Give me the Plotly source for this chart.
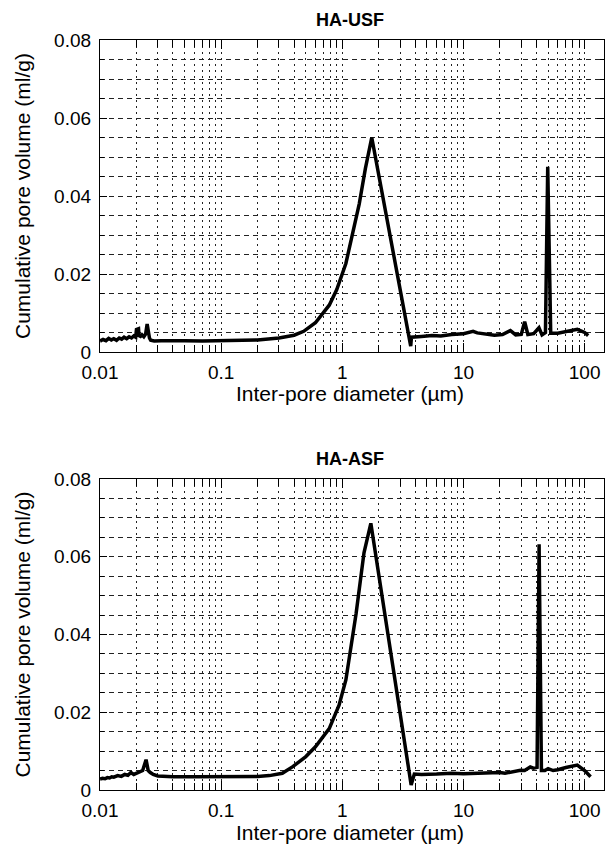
import plotly.graph_objects as go

# ---------------- data ----------------
usf_diam = [0.0100, 0.0106, 0.0112, 0.0118, 0.0124, 0.0130, 0.0137, 0.0144, 0.0151, 0.0158,
            0.0166, 0.0174, 0.0182, 0.0190, 0.0197, 0.0200, 0.0208, 0.0210, 0.0216, 0.0222,
            0.0230, 0.0238, 0.0245, 0.0250, 0.0256, 0.0262, 0.0280, 0.032, 0.040, 0.050,
            0.070, 0.100, 0.150, 0.200, 0.300, 0.400, 0.480, 0.600, 0.780, 0.900,
            1.07, 1.20, 1.38, 1.55, 1.75, 3.67, 3.72, 4.5, 5.5, 6.5,
            8.0, 10.0, 11.0, 12.0, 13.0, 15.0, 18.0, 21.0, 24.4, 27.0,
            30.0, 32.0, 34.0, 38.0, 42.0, 44.5, 47.5, 49.6, 52.5, 60.0,
            70.0, 87.0, 100.0, 107.0]
usf_vol = [0.0028, 0.0032, 0.0029, 0.0035, 0.0031, 0.0034, 0.0030, 0.0036, 0.0033, 0.0038,
           0.0034, 0.0039, 0.0036, 0.0041, 0.0038, 0.0058, 0.0060, 0.0042, 0.0040, 0.0044,
           0.0039, 0.0046, 0.0072, 0.0047, 0.0036, 0.0030, 0.0028, 0.0029, 0.0028, 0.0029,
           0.0028, 0.0029, 0.0029, 0.0031, 0.0036, 0.0043, 0.0053, 0.0075, 0.0120, 0.0160,
           0.0227, 0.0300, 0.0380, 0.0470, 0.0550, 0.0015, 0.0038, 0.0040, 0.0042, 0.0041,
           0.0045, 0.0047, 0.0050, 0.0053, 0.0049, 0.0046, 0.0043, 0.0045, 0.0055, 0.0044,
           0.0045, 0.0078, 0.0045, 0.0047, 0.0062, 0.0044, 0.0050, 0.0475, 0.0048, 0.0048,
           0.0052, 0.0058, 0.0050, 0.0042]

asf_diam = [0.0100, 0.0105, 0.0110, 0.0115, 0.0120, 0.0125, 0.0130, 0.0140, 0.0150, 0.0160,
            0.0170, 0.0180, 0.0190, 0.0200, 0.0210, 0.0225, 0.0240, 0.0250, 0.0260, 0.0275,
            0.030, 0.040, 0.060, 0.100, 0.150, 0.200, 0.250, 0.320, 0.390, 0.500,
            0.600, 0.780, 0.940, 1.07, 1.30, 1.51, 1.72, 3.70, 3.93, 4.5,
            6.0, 8.0, 10.0, 12.0, 15.0, 20.0, 22.0, 26.0, 29.5, 32.0,
            35.6, 37.8, 40.5, 42.1, 44.0, 47.0, 50.0, 55.0, 60.0, 70.0,
            87.0, 100.0, 112.0]
asf_vol = [0.0028, 0.0030, 0.0029, 0.0032, 0.0031, 0.0034, 0.0033, 0.0037, 0.0035, 0.0040,
           0.0038, 0.0045, 0.0040, 0.0043, 0.0044, 0.0050, 0.0078, 0.0050, 0.0045, 0.0040,
           0.0036, 0.0034, 0.0034, 0.0034, 0.0034, 0.0035, 0.0037, 0.0043, 0.0060, 0.0086,
           0.0111, 0.0158, 0.0218, 0.0283, 0.0454, 0.0610, 0.0686, 0.0013, 0.0041, 0.0040,
           0.0041, 0.0043, 0.0042, 0.0043, 0.0043, 0.0045, 0.0043, 0.0047, 0.0051, 0.0050,
           0.0059, 0.0056, 0.0058, 0.0632, 0.0050, 0.0050, 0.0055, 0.0050, 0.0052, 0.0058,
           0.0064, 0.0050, 0.0034]

x_ticks = [0.01, 0.1, 1, 10, 100]
x_tick_labels = ["0.01", "0.1", "1", "10", "100"]
y_ticks = [0, 0.02, 0.04, 0.06, 0.08]
y_tick_labels = ["0", "0.02", "0.04", "0.06", "0.08"]
panel_titles = ["HA-USF", "HA-ASF"]
x_title = "Inter-pore diameter (µm)"
y_title = "Cumulative pore volume (ml/g)"

# ---------------- figure ----------------
W, H = 606, 848
FONT = "Liberation Sans, Arial, Helvetica, sans-serif"

minor_x = [m * d for d in (0.01, 0.1, 1, 10, 100) for m in range(2, 10) if m * d <= 150]
minor_y = [round(0.005 * k, 3) for k in range(1, 16) if k % 4 != 0]

def xaxis(anchor):
    return dict(type="log", range=[-2, 2.16], domain=[100 / W, 604 / W], anchor=anchor,
                automargin=False,
                tickmode="array", tickvals=x_ticks, ticktext=x_tick_labels,
                ticks="inside", ticklen=9, tickwidth=1, tickcolor="black",
                showline=True, linecolor="black", linewidth=1.3, mirror="ticks",
                showgrid=True, gridcolor="#222", gridwidth=1, griddash="2px,4px",
                minor=dict(tickmode="array", tickvals=minor_x, ticks="inside", ticklen=7,
                           tickcolor="black", tickwidth=1, showgrid=True,
                           gridcolor="#222", gridwidth=1, griddash="2px,4px"),
                tickfont=dict(family=FONT, size=19, color="black"),
                ticklabelstandoff=3, zeroline=False)

def yaxis(anchor, top_px, bot_px):
    return dict(range=[0, 0.08], domain=[1 - bot_px / H, 1 - top_px / H], anchor=anchor,
                automargin=False,
                tickmode="array", tickvals=y_ticks, ticktext=y_tick_labels,
                ticks="inside", ticklen=7, tickwidth=1, tickcolor="black",
                showline=True, linecolor="black", linewidth=1.3, mirror="ticks",
                showgrid=True, gridcolor="#222", gridwidth=1, griddash="5px,4px",
                minor=dict(tickmode="array", tickvals=minor_y, ticks="inside", ticklen=4,
                           tickcolor="black", showgrid=True, gridcolor="#222",
                           gridwidth=1, griddash="5px,4px"),
                tickfont=dict(family=FONT, size=19, color="black"),
                ticklabelstandoff=4, zeroline=False)

fig = go.Figure()
fig.add_trace(go.Scatter(x=usf_diam, y=usf_vol, mode="lines", xaxis="x", yaxis="y",
                         line=dict(color="black", width=3.5), showlegend=False))
fig.add_trace(go.Scatter(x=asf_diam, y=asf_vol, mode="lines", xaxis="x2", yaxis="y2",
                         line=dict(color="black", width=3.5), showlegend=False))

TOP1, BOT1 = 40, 352
TOP2, BOT2 = 479, 790

annotations = []
for title, top, bot in ((panel_titles[0], TOP1, BOT1), (panel_titles[1], TOP2, BOT2)):
    annotations.append(dict(text="<b>" + title + "</b>", x=350 / W, y=1 - (top - 20) / H,
                            xref="paper", yref="paper", showarrow=False,
                            font=dict(family=FONT, size=18, color="black"),
                            xanchor="center", yanchor="middle"))
    annotations.append(dict(text=x_title, x=350 / W, y=1 - (bot + 42) / H,
                            xref="paper", yref="paper", showarrow=False,
                            font=dict(family=FONT, size=21, color="black"),
                            xanchor="center", yanchor="middle"))
    annotations.append(dict(text=y_title, x=22 / W, y=1 - ((top + bot) / 2) / H,
                            xref="paper", yref="paper", showarrow=False, textangle=-90,
                            font=dict(family=FONT, size=21, color="black"),
                            xanchor="center", yanchor="middle"))

fig.update_layout(
    template="none",
    width=W, height=H,
    margin=dict(l=0, r=0, t=0, b=0, pad=0, autoexpand=False),
    paper_bgcolor="white", plot_bgcolor="white",
    xaxis=xaxis("y"), yaxis=yaxis("x", TOP1, BOT1),
    xaxis2=xaxis("y2"), yaxis2=yaxis("x2", TOP2, BOT2),
    annotations=annotations,
    showlegend=False,
)

fig.write_html(
    "out.html",
    config={"displayModeBar": False},
    post_script="document.body.style.margin='0';document.body.style.padding='0';"
                "document.body.style.overflow='hidden';",
)
